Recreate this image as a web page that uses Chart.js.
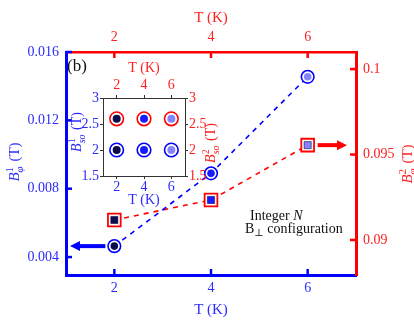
<!DOCTYPE html>
<html>
<head>
<meta charset="utf-8">
<script src="https://cdn.jsdelivr.net/npm/chart.js@4.4.1/dist/chart.umd.min.js"></script>
<style>
  html, body { margin: 0; padding: 0; background: #fff; }
  #wrap { position: relative; width: 414px; height: 327px; }
  #wrap canvas { position: absolute; left: 0; top: 0; }
</style>
</head>
<body>
<div id="wrap">
  <canvas id="main" width="414" height="327"></canvas>
  <canvas id="inset" width="414" height="327"></canvas>
</div>
<script>
// temperatures (K)
const temps = [2, 4, 6];
// main panel: dephasing fields (T)
const bPhi1 = [0.00464, 0.0089, 0.01455];
const bPhi2 = [0.09117, 0.09234, 0.09555];
// inset: spin-orbit fields (T)
const bSo1 = [2.0, 2.0, 2.0];
const bSo2 = [2.6, 2.6, 2.6];
// tick labels
const tTicks = [2, 4, 6];
const phi1Ticks = [0.004, 0.008, 0.012, 0.016];
const phi2Ticks = [0.09, 0.095, 0.1];
const soTicks = [1.5, 2, 2.5, 3];
// marker fill per temperature
const fillColors = ['#0c0c4a', '#1a1aff', '#8484ff'];

const BLUE = '#0000ff';
const RED = '#ff0000';
const BLUE_TXT = '#2b2bff';
const RED_TXT = '#ff2020';
const SERIF = '"Liberation Serif", "DejaVu Serif", serif';

const pts = ys => temps.map((t, i) => ({ x: t, y: ys[i] }));
const fixedTicks = values => scale => { scale.ticks = values.map(v => ({ value: v })); };

// B with stacked super/subscript, then the unit, optionally rotated
function drawScriptLabel(ctx, cx, cy, color, size, base, sup, sub, rest, rotate) {
  const small = Math.round(size * 0.7);
  const fBase = `italic ${size}px ${SERIF}`;
  const fSup = `${small}px ${SERIF}`;
  const fSub = `italic ${small}px ${SERIF}`;
  const fRest = `${size}px ${SERIF}`;
  ctx.save();
  ctx.translate(cx, cy);
  if (rotate) ctx.rotate(-Math.PI / 2);
  ctx.fillStyle = color;
  ctx.textAlign = 'left';
  ctx.textBaseline = 'alphabetic';
  ctx.font = fBase; const wB = ctx.measureText(base).width;
  ctx.font = fSup; const wSup = ctx.measureText(sup).width;
  ctx.font = fSub; const wSub = ctx.measureText(sub).width;
  ctx.font = fRest; const wR = ctx.measureText(rest).width;
  const wS = Math.max(wSup, wSub) + 1;
  let x = -(wB + wS + wR) / 2;
  const by = size * 0.35;
  ctx.font = fBase; ctx.fillText(base, x, by); x += wB;
  ctx.font = fSup; ctx.fillText(sup, x, by - size * 0.42);
  ctx.font = fSub; ctx.fillText(sub, x, by + size * 0.28);
  x += wS;
  ctx.font = fRest; ctx.fillText(rest, x, by);
  ctx.restore();
}

function arrow(ctx, x0, x1, y, color) {
  // shaft from x0 to the tip at x1
  const dir = Math.sign(x1 - x0);
  const head = 10;
  ctx.save();
  ctx.strokeStyle = color;
  ctx.fillStyle = color;
  ctx.lineWidth = 4;
  ctx.beginPath();
  ctx.moveTo(x0, y);
  ctx.lineTo(x1 - dir * head, y);
  ctx.stroke();
  ctx.beginPath();
  ctx.moveTo(x1, y);
  ctx.lineTo(x1 - dir * head, y - 5);
  ctx.lineTo(x1 - dir * head, y + 5);
  ctx.closePath();
  ctx.fill();
  ctx.restore();
}

const mainDecor = {
  id: 'mainDecor',
  beforeDatasetsDraw(chart) {
    const { ctx, chartArea: a, scales } = chart;
    const len = 6;
    ctx.save();
    ctx.lineWidth = 2.5;
    ctx.strokeStyle = BLUE;
    tTicks.forEach(v => {
      const px = scales.x.getPixelForValue(v);
      ctx.beginPath(); ctx.moveTo(px, a.bottom); ctx.lineTo(px, a.bottom - len); ctx.stroke();
    });
    phi1Ticks.forEach(v => {
      const py = scales.y.getPixelForValue(v);
      ctx.beginPath(); ctx.moveTo(a.left, py); ctx.lineTo(a.left + len, py); ctx.stroke();
    });
    ctx.strokeStyle = RED;
    tTicks.forEach(v => {
      const px = scales.x2.getPixelForValue(v);
      ctx.beginPath(); ctx.moveTo(px, a.top); ctx.lineTo(px, a.top + len); ctx.stroke();
    });
    phi2Ticks.forEach(v => {
      const py = scales.y2.getPixelForValue(v);
      ctx.beginPath(); ctx.moveTo(a.right, py); ctx.lineTo(a.right - len, py); ctx.stroke();
    });
    ctx.restore();
  },
  afterDraw(chart) {
    const { ctx, chartArea: a, scales } = chart;
    // arrows pointing to the axis each series belongs to
    arrow(ctx, scales.x.getPixelForValue(temps[0]) - 9, a.left + 4,
      scales.y.getPixelForValue(bPhi1[0]), BLUE);
    arrow(ctx, scales.x.getPixelForValue(temps[2]) + 10, a.right - 9,
      scales.y2.getPixelForValue(bPhi2[2]), RED);

    drawScriptLabel(ctx, 14, 162, BLUE_TXT, 15, 'B', '1', 'φ', ' (T)', true);
    drawScriptLabel(ctx, 407, 164, RED_TXT, 15, 'B', '2', 'φ', ' (T)', true);

    ctx.save();
    ctx.fillStyle = '#111';
    ctx.textBaseline = 'alphabetic';
    ctx.textAlign = 'left';
    ctx.font = `17px ${SERIF}`;
    ctx.fillText('(b)', 67, 71);
    ctx.font = `14px ${SERIF}`;
    ctx.fillText('Integer ', 250, 220);
    let w = ctx.measureText('Integer ').width;
    ctx.font = `italic 14px ${SERIF}`;
    ctx.fillText('N', 250 + w, 220);
    ctx.font = `14px ${SERIF}`;
    ctx.fillText('B', 245, 233);
    w = ctx.measureText('B').width;
    ctx.font = `10px ${SERIF}`;
    ctx.fillText('⊥', 245 + w, 236);
    const w2 = ctx.measureText('⊥').width;
    ctx.font = `14px ${SERIF}`;
    ctx.fillText(' configuration', 245 + w + w2, 233);
    ctx.restore();
  }
};

const tickFont = { family: SERIF, size: 14 };
const titleFont = { family: SERIF, size: 15 };

new Chart(document.getElementById('main'), {
  type: 'scatter',
  data: {
    datasets: [
      {
        data: pts(bPhi1), yAxisID: 'y', order: 1,
        pointRadius: 3.8, pointHoverRadius: 3.8,
        pointBackgroundColor: fillColors, pointBorderWidth: 0
      },
      {
        data: pts(bPhi1), yAxisID: 'y', order: 2, showLine: true,
        borderColor: BLUE, borderWidth: 1.6, borderDash: [5, 5],
        pointRadius: 6.3, pointBackgroundColor: '#fff',
        pointBorderColor: BLUE, pointBorderWidth: 1.6
      },
      {
        data: pts(bPhi2), yAxisID: 'y2', order: 1, pointStyle: 'rect',
        pointRadius: 5, pointBackgroundColor: fillColors,
        pointBorderColor: '#0c0c4a', pointBorderWidth: 0.6
      },
      {
        data: pts(bPhi2), yAxisID: 'y2', order: 2, showLine: true, pointStyle: 'rect',
        borderColor: RED, borderWidth: 1.6, borderDash: [5, 5],
        pointRadius: 9, pointBackgroundColor: '#fff',
        pointBorderColor: RED, pointBorderWidth: 1.8
      }
    ]
  },
  options: {
    responsive: false,
    animation: false,
    layout: { padding: 0 },
    plugins: { legend: { display: false }, tooltip: { enabled: false } },
    scales: {
      x: {
        type: 'linear', position: 'bottom', min: 1, max: 7,
        afterBuildTicks: fixedTicks(tTicks),
        afterFit: s => { s.height = 52; },
        border: { color: BLUE, width: 3 },
        grid: { drawOnChartArea: false, drawTicks: false },
        ticks: { color: BLUE_TXT, font: tickFont, padding: 5, maxRotation: 0, callback: v => String(v) },
        title: { display: true, text: 'T (K)', color: BLUE_TXT, font: titleFont, padding: { top: 0, bottom: 8 } }
      },
      x2: {
        type: 'linear', position: 'top', min: 1, max: 7,
        afterBuildTicks: fixedTicks(tTicks),
        afterFit: s => { s.height = 52; },
        border: { color: RED, width: 2.5 },
        grid: { drawOnChartArea: false, drawTicks: false },
        ticks: { color: RED_TXT, font: tickFont, padding: 6, maxRotation: 0, callback: v => String(v) },
        title: { display: true, text: 'T (K)', color: RED_TXT, font: titleFont, padding: { top: 9, bottom: 0 } }
      },
      y: {
        type: 'linear', position: 'left', min: 0.00295, max: 0.016,
        afterBuildTicks: fixedTicks(phi1Ticks),
        afterFit: s => { s.width = 66; },
        border: { color: BLUE, width: 3 },
        grid: { drawOnChartArea: false, drawTicks: false },
        ticks: { color: BLUE_TXT, font: tickFont, padding: 7, callback: v => v.toFixed(3) }
      },
      y2: {
        type: 'linear', position: 'right', min: 0.08795, max: 0.101,
        afterBuildTicks: fixedTicks(phi2Ticks),
        afterFit: s => { s.width = 58; },
        border: { color: RED, width: 3 },
        grid: { drawOnChartArea: false, drawTicks: false },
        ticks: { color: RED_TXT, font: tickFont, padding: 7, callback: v => String(v) }
      }
    }
  },
  plugins: [mainDecor]
});

// ---- inset ----
const insetDecor = {
  id: 'insetDecor',
  beforeDraw(chart) {
    const { ctx, chartArea: a } = chart;
    ctx.save();
    ctx.fillStyle = '#fff';
    ctx.fillRect(a.left, a.top, a.right - a.left, a.bottom - a.top);
    ctx.restore();
  },
  afterDraw(chart) {
    const { ctx } = chart;
    drawScriptLabel(ctx, 76, 132, BLUE_TXT, 14, 'B', '1', 'so', ' (T)', true);
    drawScriptLabel(ctx, 210, 143, RED_TXT, 14, 'B', '2', 'so', ' (T)', true);
  }
};

const insetScale = (pos, color, txt, size, extra) => Object.assign({
  type: 'linear', position: pos,
  border: { color: '#333', width: 1 },
  grid: { drawOnChartArea: false, tickLength: 3, tickColor: '#333', tickWidth: 1 },
  ticks: { color: txt, font: tickFont, padding: 1, maxRotation: 0, callback: v => String(v) },
  afterFit: s => { if (s.isHorizontal()) s.height = size; else s.width = size; }
}, extra);

new Chart(document.getElementById('inset'), {
  type: 'scatter',
  data: {
    datasets: [
      {
        data: pts(bSo2), yAxisID: 'y2', order: 1,
        pointRadius: 4, pointBackgroundColor: fillColors, pointBorderWidth: 0
      },
      {
        data: pts(bSo2), yAxisID: 'y2', order: 2,
        pointRadius: 6.8, pointBackgroundColor: '#fff',
        pointBorderColor: RED, pointBorderWidth: 1.6
      },
      {
        data: pts(bSo1), yAxisID: 'y', order: 1,
        pointRadius: 4, pointBackgroundColor: fillColors, pointBorderWidth: 0
      },
      {
        data: pts(bSo1), yAxisID: 'y', order: 2,
        pointRadius: 6.8, pointBackgroundColor: '#fff',
        pointBorderColor: BLUE, pointBorderWidth: 1.6
      }
    ]
  },
  options: {
    responsive: false,
    animation: false,
    layout: { padding: 0 },
    plugins: { legend: { display: false }, tooltip: { enabled: false } },
    scales: {
      x: insetScale('bottom', BLUE, BLUE_TXT, 151, {
        min: 1, max: 7, afterBuildTicks: fixedTicks(tTicks),
        ticks: { color: BLUE_TXT, font: tickFont, padding: 0, maxRotation: 0, callback: v => String(v) },
        title: { display: true, text: 'T (K)', color: BLUE_TXT, font: { family: SERIF, size: 14 }, padding: { top: 0, bottom: 118 } }
      }),
      x2: insetScale('top', RED, RED_TXT, 98, {
        min: 1, max: 7, afterBuildTicks: fixedTicks(tTicks),
        title: { display: true, text: 'T (K)', color: RED_TXT, font: { family: SERIF, size: 14 }, padding: { top: 60, bottom: 0 } }
      }),
      y: insetScale('left', BLUE, BLUE_TXT, 103, {
        min: 1.5, max: 3, afterBuildTicks: fixedTicks(soTicks)
      }),
      y2: insetScale('right', RED, RED_TXT, 229, {
        min: 1.5, max: 3, afterBuildTicks: fixedTicks(soTicks)
      })
    }
  },
  plugins: [insetDecor]
});
</script>
</body>
</html>
